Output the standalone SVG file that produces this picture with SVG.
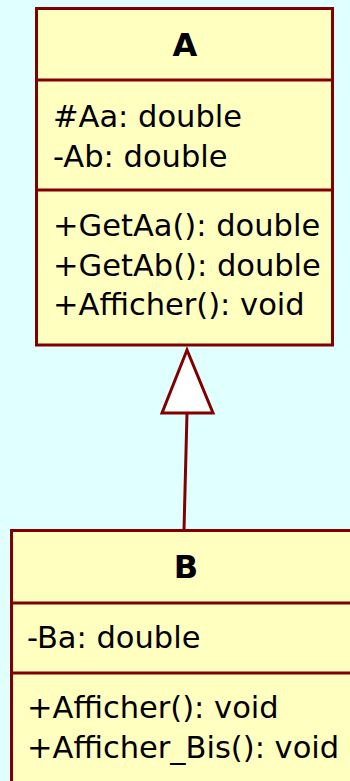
<svg xmlns="http://www.w3.org/2000/svg" width="350" height="781" viewBox="0 0 350 781">
<style>
.box{fill:#ffffc0;stroke:#800000;stroke-width:3}
.div{stroke:#800000;stroke-width:3}
.t{font-family:"DejaVu Sans",Verdana,sans-serif;font-size:30.5px;fill:#000}
.h{font-family:"DejaVu Sans",Verdana,sans-serif;font-size:32px;font-weight:bold;fill:#000;text-anchor:middle}
.edge{stroke:#800000;stroke-width:3;fill:none}
.head{fill:#fff;stroke:#800000;stroke-width:3}
</style>
<rect width="350" height="781" fill="#e0ffff"/>
<g id="connectors">
<line class="edge" x1="187" y1="413" x2="184" y2="530"/>
<polygon class="head" points="187,350 162,413 213,413"/>
</g>
<g id="A">
<rect class="box" x="36.5" y="8.5" width="296" height="336.5"/>
<line class="div" x1="36.5" y1="80" x2="332.5" y2="80"/>
<line class="div" x1="36.5" y1="190" x2="332.5" y2="190"/>
<text class="h" x="185" y="56">A</text>
<text class="t" x="53" y="127">#Aa: double</text>
<text class="t" x="53" y="167">-Ab: double</text>
<text class="t" x="53" y="236">+GetAa(): double</text>
<text class="t" x="53" y="276">+GetAb(): double</text>
<text class="t" x="53" y="315">+Afficher(): void</text>
</g>
<g id="B">
<rect class="box" x="11.5" y="530.5" width="350" height="300"/>
<line class="div" x1="11.5" y1="603" x2="361.5" y2="603"/>
<line class="div" x1="11.5" y1="673" x2="361.5" y2="673"/>
<text class="h" x="186" y="578">B</text>
<text class="t" x="27" y="648">-Ba: double</text>
<text class="t" x="27" y="718">+Afficher(): void</text>
<text class="t" x="27" y="758">+Afficher_Bis(): void</text>
</g>
</svg>
